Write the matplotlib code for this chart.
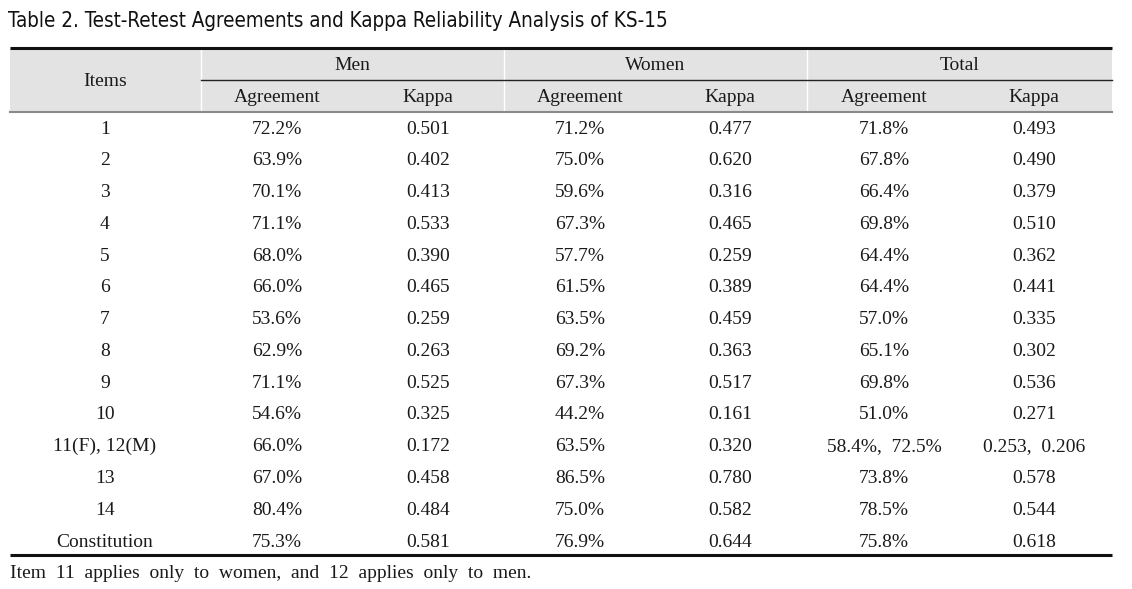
import matplotlib
matplotlib.use("Agg")
import matplotlib.pyplot as plt
from matplotlib.patches import Rectangle

# table content
title = "Table 2. Test-Retest Agreements and Kappa Reliability Analysis of KS-15"
groups = ["Men", "Women", "Total"]
sub_headers = ["Agreement", "Kappa"]
items = ["1", "2", "3", "4", "5", "6", "7", "8", "9", "10",
         "11(F), 12(M)", "13", "14", "Constitution"]
men_agree = ["72.2%", "63.9%", "70.1%", "71.1%", "68.0%", "66.0%", "53.6%",
             "62.9%", "71.1%", "54.6%", "66.0%", "67.0%", "80.4%", "75.3%"]
men_kappa = ["0.501", "0.402", "0.413", "0.533", "0.390", "0.465", "0.259",
             "0.263", "0.525", "0.325", "0.172", "0.458", "0.484", "0.581"]
women_agree = ["71.2%", "75.0%", "59.6%", "67.3%", "57.7%", "61.5%", "63.5%",
               "69.2%", "67.3%", "44.2%", "63.5%", "86.5%", "75.0%", "76.9%"]
women_kappa = ["0.477", "0.620", "0.316", "0.465", "0.259", "0.389", "0.459",
               "0.363", "0.517", "0.161", "0.320", "0.780", "0.582", "0.644"]
total_agree = ["71.8%", "67.8%", "66.4%", "69.8%", "64.4%", "64.4%", "57.0%",
               "65.1%", "69.8%", "51.0%", "58.4%,  72.5%", "73.8%", "78.5%", "75.8%"]
total_kappa = ["0.493", "0.490", "0.379", "0.510", "0.362", "0.441", "0.335",
               "0.302", "0.536", "0.271", "0.253,  0.206", "0.578", "0.544", "0.618"]
footnote = "Item  11  applies  only  to  women,  and  12  applies  only  to  men."

W, H = 1132, 589
fig = plt.figure(figsize=(W / 100, H / 100), dpi=100)
ax = fig.add_axes([0, 0, 1, 1])
ax.set_xlim(0, W)
ax.set_ylim(H, 0)
ax.axis("off")

serif = "Liberation Serif"
fs = 14
txt_col = "#1a1a1a"
left, right = 10, 1112
group_edges = [left, 201, 504, 807, right]
col_x = [105, 277, 428, 580, 730, 884, 1034]

# header block
ax.add_patch(Rectangle((left, 48), right - left, 63, color="#e3e3e3", lw=0))
for x in group_edges[1:-1]:
    ax.plot([x, x], [48, 111], color="white", lw=1)
ax.plot([left, right], [47.5, 47.5], color="#111111", lw=2.2, solid_capstyle="butt")
ax.plot([group_edges[1], right], [80, 80], color="#222222", lw=1.0)
ax.plot([left, right], [111.5, 111.5], color="#8a8a8a", lw=1.5)
ax.plot([left, right], [555, 555], color="#111111", lw=2.2, solid_capstyle="butt")

ax.text(8, 21, title, fontsize=14.8, family="DejaVu Sans", fontstretch="condensed",
        va="center", ha="left", color="#111111")

ax.text(col_x[0], 82, "Items", fontsize=fs, family=serif, ha="center", va="center",
        color=txt_col)
for i, g in enumerate(groups):
    cx = (group_edges[i + 1] + group_edges[i + 2]) / 2
    ax.text(cx, 66, g, fontsize=fs, family=serif, ha="center", va="center", color=txt_col)
    for j, s in enumerate(sub_headers):
        ax.text(col_x[1 + 2 * i + j], 98, s, fontsize=fs, family=serif,
                ha="center", va="center", color=txt_col)

columns = [items, men_agree, men_kappa, women_agree, women_kappa, total_agree, total_kappa]
y0, dy = 129, 31.77
for r in range(len(items)):
    y = y0 + r * dy
    for c, col in enumerate(columns):
        ax.text(col_x[c], y, col[r], fontsize=fs, family=serif,
                ha="center", va="center", color=txt_col)

ax.text(10, 573, footnote, fontsize=14, family=serif, ha="left", va="center",
        color=txt_col)

fig.savefig("out.png", dpi=100)
